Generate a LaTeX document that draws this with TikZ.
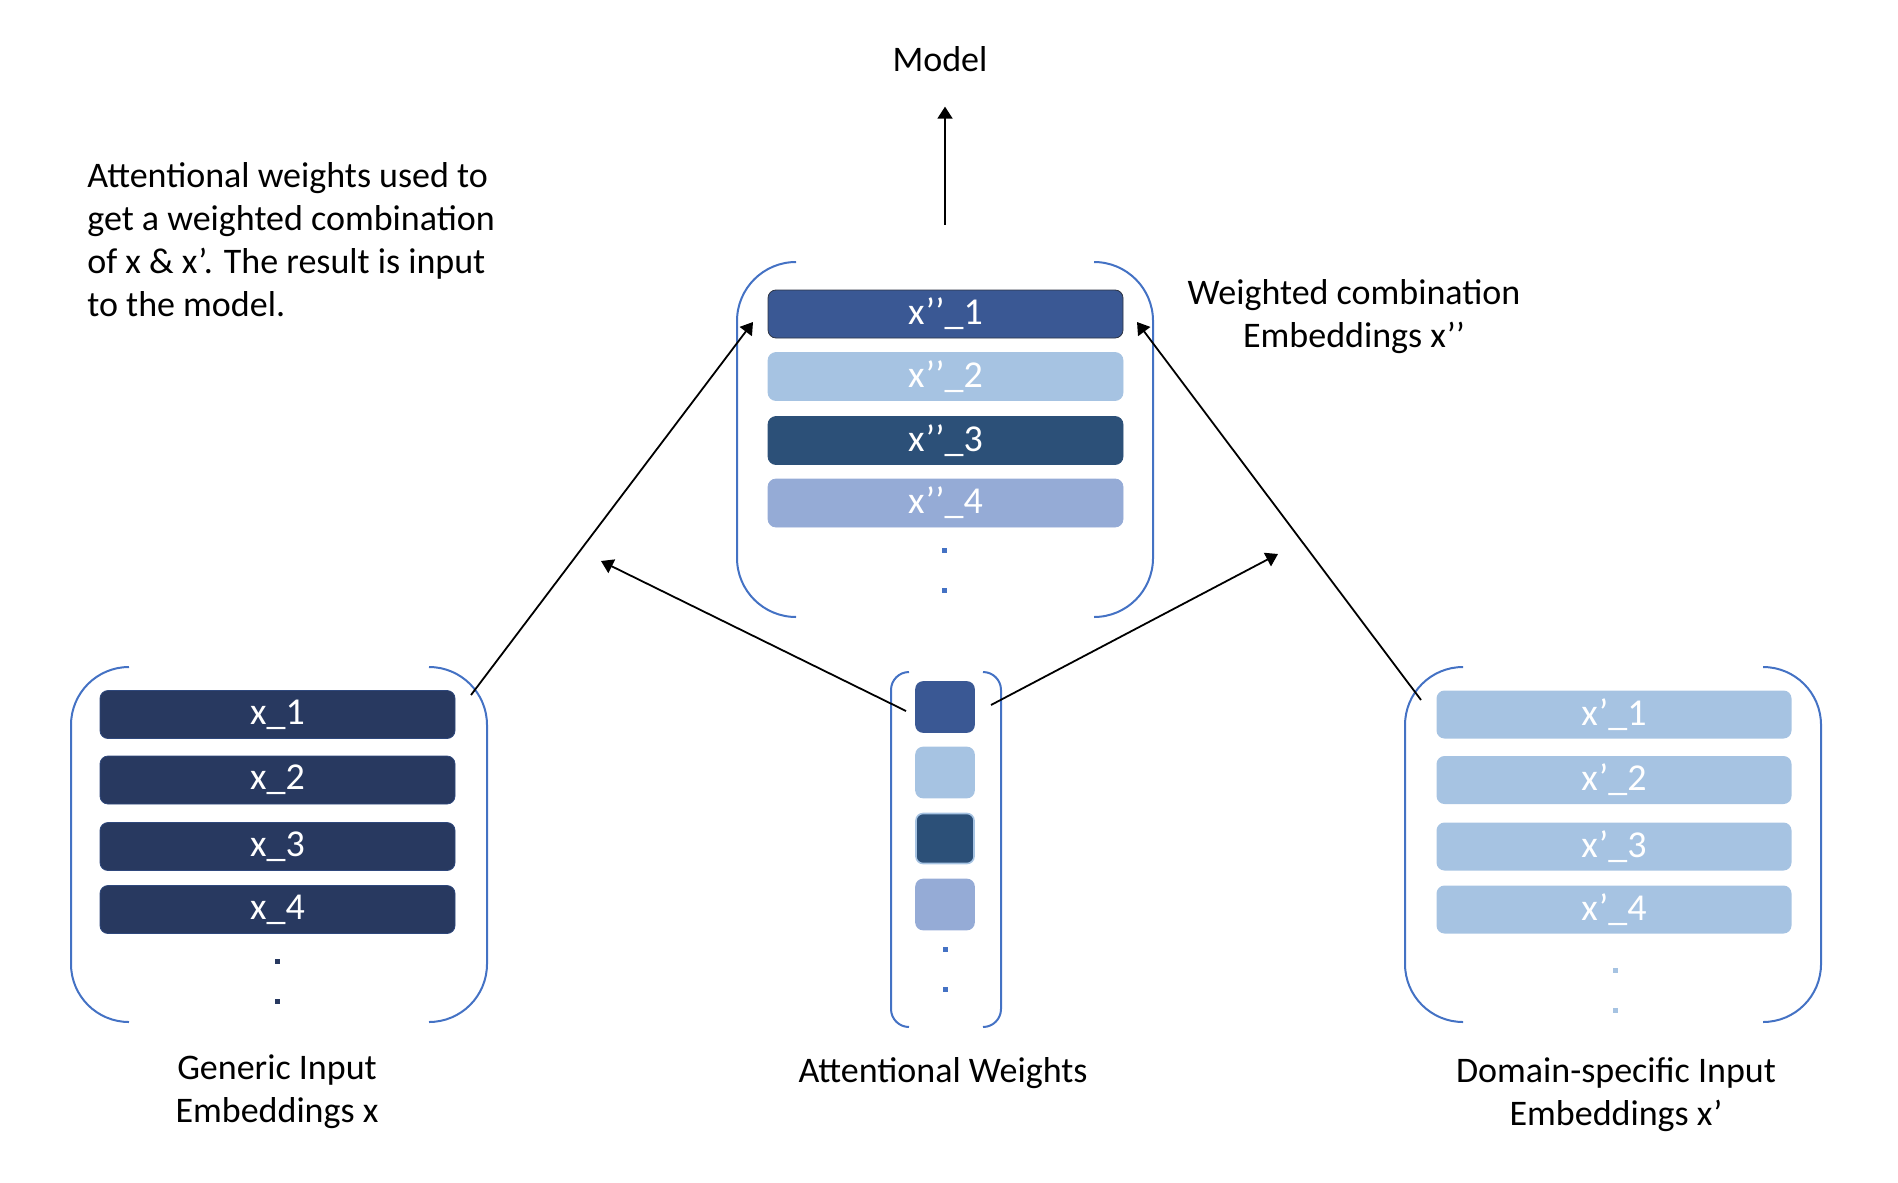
\documentclass[tikz,border=0pt]{standalone}
\usepackage{fontspec}
\setmainfont{Carlito}
\usepackage{tikz}
\definecolor{frameblue}{RGB}{68,114,196}
\definecolor{navy}{RGB}{40,57,96}
\definecolor{navyedge}{RGB}{47,72,124}
\definecolor{midblue}{RGB}{58,88,148}
\definecolor{paleblue}{RGB}{166,195,226}
\definecolor{deepblue}{RGB}{44,80,120}
\definecolor{softblue}{RGB}{149,171,214}
\definecolor{darkedge}{RGB}{45,52,68}
\usetikzlibrary{arrows.meta}

\begin{document}
\begin{tikzpicture}[x=0.5pt, y=-0.5pt,
    bar/.style={rounded corners=4pt, minimum width=177.5pt, minimum height=24pt, inner sep=0pt, text=white, font=\fontsize{19}{19}\selectfont},
    wsq/.style={rounded corners=3.5pt, minimum width=29pt, minimum height=25pt, inner sep=0pt, line width=0.8pt},
    frame/.style={frameblue, line width=1pt},
    lbl/.style={font=\fontsize{18}{21.5}\selectfont, inner sep=0pt},
    arr/.style={-{Triangle[length=6pt, width=7.5pt]}, line width=0.9pt}]
    \useasboundingbox (0,0) rectangle (1898,1182);

    % Generic input embeddings
    \draw[frame, rounded corners=29pt] (129,667) -- (71,667) -- (71,1022) -- (129,1022);
    \draw[frame, rounded corners=29pt] (429,667) -- (487,667) -- (487,1022) -- (429,1022);
    \foreach \i/\y in {1/714.5,2/780,3/846.5,4/909.5} {
        \node[bar, fill=navy, draw=navyedge] (x\i) at (277.5,\y) {x\_\i};
    }
    \foreach \y in {961,1001} {
        \fill[navy] (275,\y-2.5) rectangle ++(5,5);
    }
    \node[lbl, anchor=north, align=center] (generic) at (277,1054) {Generic Input\\Embeddings x};

    % Domain-specific input embeddings
    \draw[frame, rounded corners=29pt] (1463,667) -- (1405,667) -- (1405,1022) -- (1463,1022);
    \draw[frame, rounded corners=29pt] (1763,667) -- (1821,667) -- (1821,1022) -- (1763,1022);
    \foreach \i/\y in {1/714.5,2/780,3/846.5,4/909.5} {
        \node[bar, fill=paleblue] (xp\i) at (1614,\y) {x’\_\i};
    }
    \foreach \y in {970,1010} {
        \fill[paleblue] (1613,\y-2.5) rectangle ++(5,5);
    }
    \node[lbl, anchor=north, align=center] (domain) at (1616,1057) {Domain-specific Input\\Embeddings x’};

    % Attentional weights
    \draw[frame, rounded corners=9pt] (909,672) -- (891,672) -- (891,1027) -- (909,1027);
    \draw[frame, rounded corners=9pt] (983,672) -- (1001,672) -- (1001,1027) -- (983,1027);
    \foreach \i/\y/\c/\e in {1/707/midblue/midblue,2/772.5/paleblue/paleblue,3/838.5/deepblue/paleblue,4/904.5/softblue/softblue} {
        \node[wsq, fill=\c, draw=\e] (w\i) at (945,\y) {};
    }
    \foreach \y in {949,989} {
        \fill[frameblue] (942.5,\y-2.5) rectangle ++(5,5);
    }
    \node[lbl, anchor=base] (weights) at (943,1082) {Attentional Weights};

    % Weighted combination x''
    \draw[frame, rounded corners=29.5pt] (796,262) -- (737,262) -- (737,617) -- (796,617);
    \draw[frame, rounded corners=29.5pt] (1094,262) -- (1153,262) -- (1153,617) -- (1094,617);
    \foreach \i/\y/\c/\e in {1/314/midblue/darkedge,2/376.5/paleblue/paleblue,3/440.5/deepblue/deepblue,4/503/softblue/softblue} {
        \node[bar, fill=\c, draw=\e] (xpp\i) at (945.5,\y) {x’’\_\i};
    }
    \foreach \y in {550,590} {
        \fill[frameblue] (942,\y-2.5) rectangle ++(5,5);
    }
    \node[lbl, anchor=north, align=center] (combo) at (1354,279.5) {Weighted combination\\Embeddings x’’};

    % Model and the note
    \node[lbl, anchor=base] (model) at (940,72) {Model};
    \node[lbl, anchor=north west, align=left] (note) at (87,162.5) {Attentional weights used to\\get a weighted combination\\of x \& x’. The result is input\\to the model.};

    % Connectors
    \coordinate (mtop) at (945,225);
    \coordinate (gout) at (471,695);
    \coordinate (gin) at (753,322);
    \coordinate (dout) at (1421,700);
    \coordinate (din) at (1137,322);
    \coordinate (wl) at (906,711);
    \coordinate (wr) at (991,705);
    \coordinate (wltip) at (601,561);
    \coordinate (wrtip) at (1278,554);
    \draw[arr, shorten >=17pt] (mtop) -- (mtop |- model.south);
    \draw[arr] (gout) -- (gin);
    \draw[arr] (dout) -- (din);
    \draw[arr] (wl) -- (wltip);
    \draw[arr] (wr) -- (wrtip);
\end{tikzpicture}
\end{document}
